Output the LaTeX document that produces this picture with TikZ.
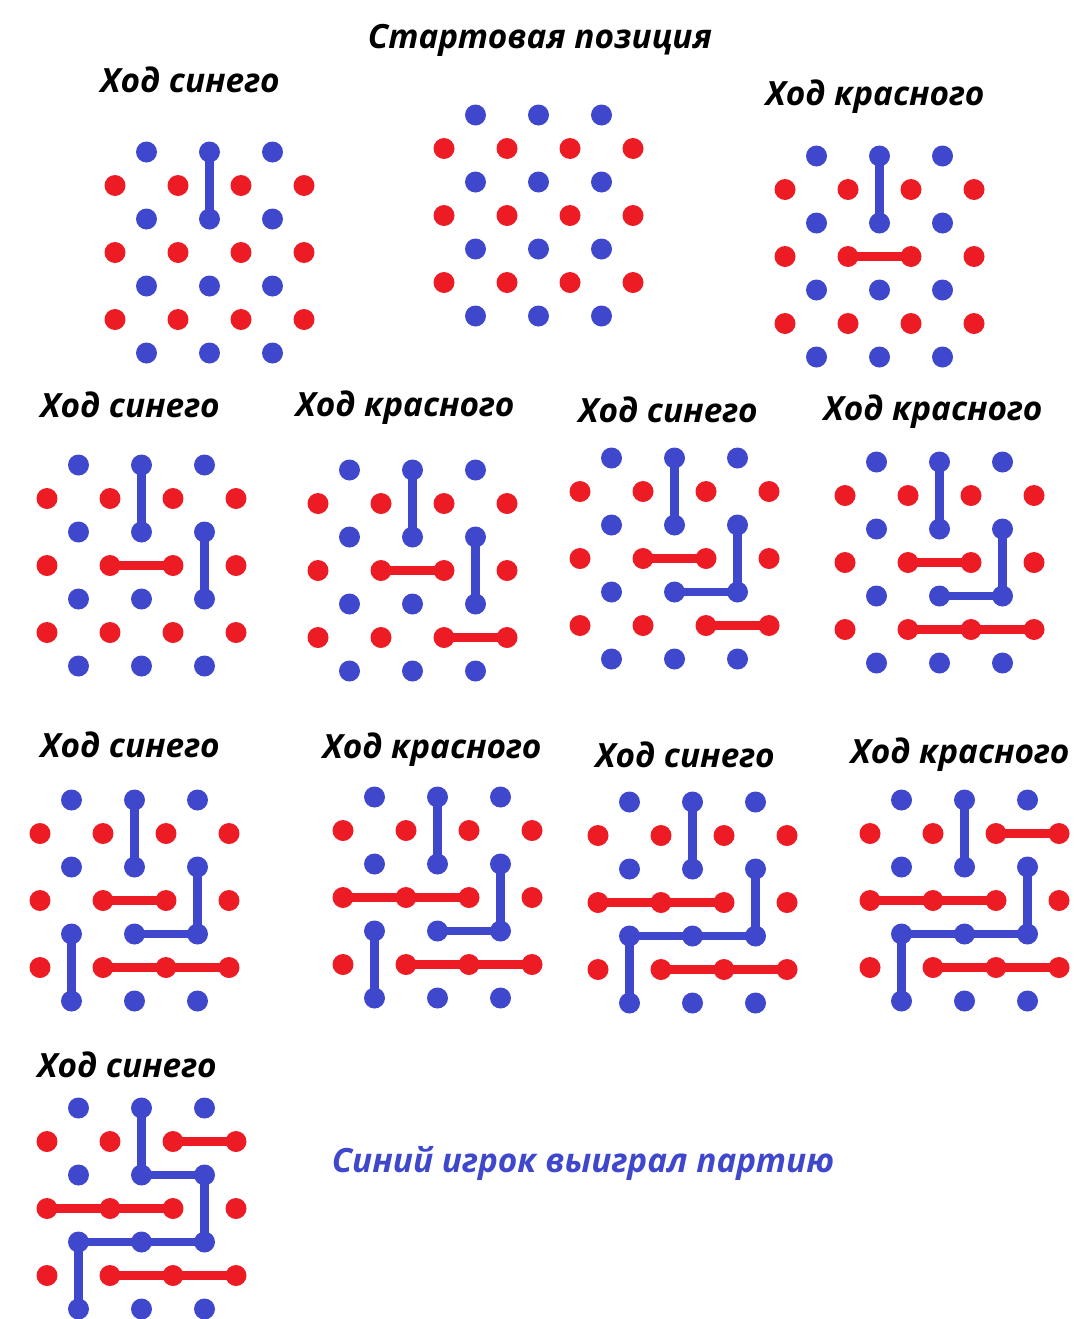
\documentclass[tikz,border=0pt]{standalone}
\usepackage{fontspec}
\setmainfont{Open Sans}
\usepackage{xcolor}
\usepackage{tikz}
\definecolor{dotBlue}{HTML}{3F48CC}
\definecolor{dotRed}{HTML}{ED1C24}

% one Bridg-it board: #1 name, (#2,#3) = first red column / first blue row
\newcommand{\bridgboard}[3]{%
  \foreach \i in {0,1,2} \foreach \j in {0,1,2,3}
    \node[bdot] (#1b\i\j) at ({#2+(2*\i+1)*31.5},{#3+2*\j*33.5}) {};
  \foreach \i in {0,1,2,3} \foreach \j in {0,1,2}
    \node[rdot] (#1r\i\j) at ({#2+2*\i*31.5},{#3+(2*\j+1)*33.5}) {};
}

\begin{document}
\begin{tikzpicture}[x=0.02cm, y=-0.02cm,
  bdot/.style={circle, fill=dotBlue, inner sep=0pt, minimum size=0.42cm},
  rdot/.style={circle, fill=dotRed, inner sep=0pt, minimum size=0.42cm},
  bmove/.style={dotBlue, line width=4.6pt},
  rmove/.style={dotRed, line width=4.6pt},
  title/.style={font=\fontsize{19}{22}\selectfont\bfseries\itshape, text=black}]
  \useasboundingbox (0,0) rectangle (1074,1319);

  % Row 1
  \node[title] (tA) at (190,80) {Ход синего};
  \bridgboard{A}{115}{152}
  \draw[bmove] (Ab10.center) -- (Ab11.center);

  \node[title] (tB) at (540,40) {Стартовая позиция};
  \bridgboard{B}{444}{115}

  \node[title] (tC) at (875,97) {Ход красного};
  \bridgboard{C}{785}{156}
  \draw[bmove] (Cb10.center) -- (Cb11.center);
  \draw[rmove] (Cr11.center) -- (Cr21.center);

  % Row 2
  \node[title] (tD) at (130,405) {Ход синего};
  \bridgboard{D}{47}{465}
  \draw[bmove] (Db10.center) -- (Db11.center);
  \draw[rmove] (Dr11.center) -- (Dr21.center);
  \draw[bmove] (Db21.center) -- (Db22.center);

  \node[title] (tE) at (405,408) {Ход красного};
  \bridgboard{E}{318}{470}
  \draw[bmove] (Eb10.center) -- (Eb11.center);
  \draw[rmove] (Er11.center) -- (Er21.center);
  \draw[bmove] (Eb21.center) -- (Eb22.center);
  \draw[rmove] (Er22.center) -- (Er32.center);

  \node[title] (tF) at (668,410) {Ход синего};
  \bridgboard{F}{580}{458}
  \draw[bmove] (Fb10.center) -- (Fb11.center);
  \draw[rmove] (Fr11.center) -- (Fr21.center);
  \draw[bmove] (Fb12.center) -- (Fb22.center) -- (Fb21.center);
  \draw[rmove] (Fr22.center) -- (Fr32.center);

  \node[title] (tG) at (933,412) {Ход красного};
  \bridgboard{G}{845}{462}
  \draw[bmove] (Gb10.center) -- (Gb11.center);
  \draw[rmove] (Gr11.center) -- (Gr21.center);
  \draw[bmove] (Gb12.center) -- (Gb22.center) -- (Gb21.center);
  \draw[rmove] (Gr12.center) -- (Gr22.center) -- (Gr32.center);

  % Row 3
  \node[title] (tH) at (130,745) {Ход синего};
  \bridgboard{H}{40}{800}
  \draw[bmove] (Hb10.center) -- (Hb11.center);
  \draw[rmove] (Hr11.center) -- (Hr21.center);
  \draw[bmove] (Hb12.center) -- (Hb22.center) -- (Hb21.center);
  \draw[rmove] (Hr12.center) -- (Hr22.center) -- (Hr32.center);
  \draw[bmove] (Hb02.center) -- (Hb03.center);

  \node[title] (tI) at (432,750) {Ход красного};
  \bridgboard{I}{343}{797}
  \draw[bmove] (Ib10.center) -- (Ib11.center);
  \draw[rmove] (Ir01.center) -- (Ir11.center) -- (Ir21.center);
  \draw[bmove] (Ib12.center) -- (Ib22.center) -- (Ib21.center);
  \draw[rmove] (Ir12.center) -- (Ir22.center) -- (Ir32.center);
  \draw[bmove] (Ib02.center) -- (Ib03.center);

  \node[title] (tJ) at (685,755) {Ход синего};
  \bridgboard{J}{598}{802}
  \draw[bmove] (Jb10.center) -- (Jb11.center);
  \draw[rmove] (Jr01.center) -- (Jr11.center) -- (Jr21.center);
  \draw[bmove] (Jb03.center) -- (Jb02.center) -- (Jb22.center) -- (Jb21.center);
  \draw[rmove] (Jr12.center) -- (Jr22.center) -- (Jr32.center);

  \node[title] (tK) at (960,755) {Ход красного};
  \bridgboard{K}{870}{800}
  \draw[bmove] (Kb10.center) -- (Kb11.center);
  \draw[rmove] (Kr20.center) -- (Kr30.center);
  \draw[rmove] (Kr01.center) -- (Kr11.center) -- (Kr21.center);
  \draw[bmove] (Kb03.center) -- (Kb02.center) -- (Kb22.center) -- (Kb21.center);
  \draw[rmove] (Kr12.center) -- (Kr22.center) -- (Kr32.center);

  % Row 4
  \node[title] (tL) at (127,1065) {Ход синего};
  \bridgboard{L}{47}{1108}
  \draw[bmove] (Lb10.center) -- (Lb11.center) -- (Lb21.center) -- (Lb22.center);
  \draw[rmove] (Lr20.center) -- (Lr30.center);
  \draw[rmove] (Lr01.center) -- (Lr11.center) -- (Lr21.center);
  \draw[bmove] (Lb03.center) -- (Lb02.center) -- (Lb22.center);
  \draw[rmove] (Lr12.center) -- (Lr22.center) -- (Lr32.center);

  \node[title, text=dotBlue] (result) at (583,1163) {Синий игрок выиграл партию};
\end{tikzpicture}
\end{document}
